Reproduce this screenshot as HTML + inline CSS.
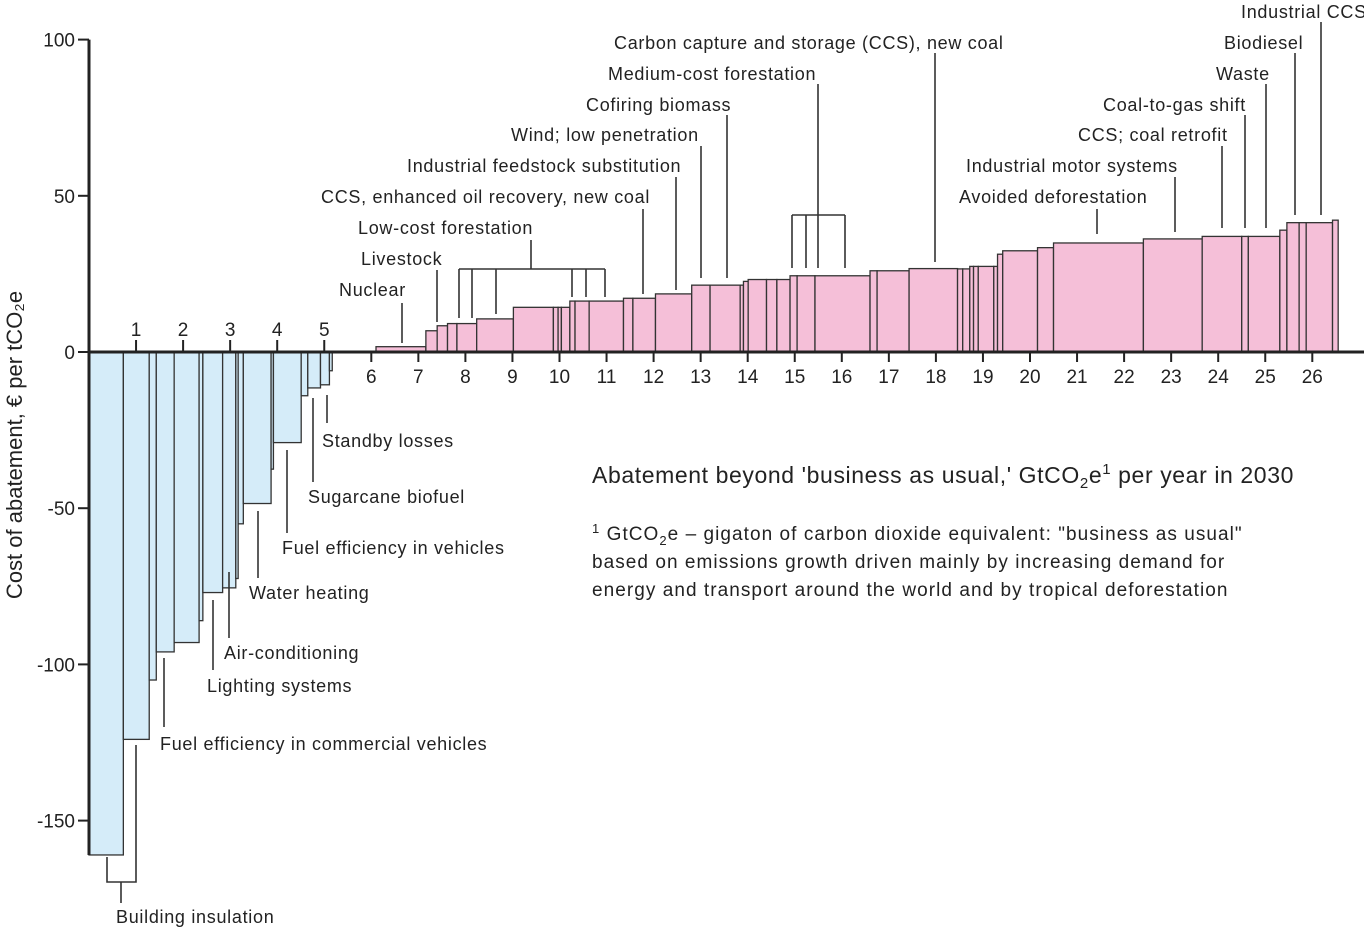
<!DOCTYPE html>
<html><head><meta charset="utf-8"><style>
html,body{margin:0;padding:0;background:#fff;}
svg{display:block;font-family:"Liberation Sans",sans-serif;}
.lb{font-size:18px;fill:#222;letter-spacing:0.7px;}
.ld{stroke:#333;stroke-width:1.6;fill:none;}
</style></head><body>
<svg id="chart" width="1364" height="928" viewBox="0 0 1364 928">
<g id="bars"></g>
<g id="axes"></g>
<g id="ann">
<text transform="translate(22,445) rotate(-90)" text-anchor="middle" style="font-size:22px" fill="#222">Cost of abatement, € per  tCO₂e</text>
<text x="592" y="483" style="font-size:23px;letter-spacing:0.6px" fill="#222">Abatement beyond 'business as usual,' GtCO<tspan font-size="15" dy="5">2</tspan><tspan dy="-5">e</tspan><tspan font-size="15" dy="-9">1</tspan><tspan dy="9"> per year in 2030</tspan></text>
<text style="font-size:19px;letter-spacing:1.05px" fill="#222">
<tspan x="592" y="540"><tspan font-size="13" dy="-7">1</tspan><tspan dy="7"> GtCO</tspan><tspan font-size="13" dy="5">2</tspan><tspan dy="-5">e – gigaton of carbon dioxide equivalent: "business as usual"</tspan></tspan>
<tspan x="592" y="568">based on emissions growth driven mainly by increasing demand for</tspan>
<tspan x="592" y="596">energy and transport around the world and by tropical deforestation</tspan>
</text>
</g>
</svg>
<script>
// negative (cost-saving) measures: widths in GtCO2e, costs in €/t
const negWidths=[0.73,0.55,0.15,0.38,0.53,0.08,0.42,0.28,0.05,0.11,0.59,0.05,0.59,0.14,0.27,0.19,0.06];
const negCosts=[-161,-124,-105,-96,-93,-86,-77,-75.5,-72.5,-55,-48.5,-37.5,-29,-14,-11.5,-10.5,-6];
const posStart=6.10;
const posWidths=[1.06,0.24,0.22,0.2,0.42,0.78,0.85,0.10,0.07,0.18,0.11,0.30,0.73,0.20,0.48,0.77,0.39,0.64,0.07,0.10,0.39,0.22,0.28,0.15,0.38,1.17,0.15,0.68,1.03,0.11,0.15,0.08,0.10,0.33,0.08,0.11,0.74,0.34,1.91,1.25,0.84,0.14,0.67,0.15,0.26,0.15,0.56,0.12];
const posCosts=[1.7,6.8,8.4,9.1,9.1,10.6,14.3,14.3,14.3,14.3,16.3,16.3,16.3,17.2,17.2,18.6,21.4,21.4,21.4,22.6,23.2,23.2,23.2,24.4,24.4,24.4,26.0,26.0,26.7,26.6,26.6,27.4,27.4,27.4,27.4,31.3,32.4,33.4,34.9,36.2,37.0,37.0,37.0,39.0,41.4,41.4,41.4,42.2];
const xTicks=[1,2,3,4,5,6,7,8,9,10,11,12,13,14,15,16,17,18,19,20,21,22,23,24,25,26];
const yTicks=[100,50,0,-50,-100,-150];

const NS="http://www.w3.org/2000/svg";
const X=v=>89+v*47.05;
const Y=v=>352-v*3.124;
function mk(tag,attrs,parent){const e=document.createElementNS(NS,tag);for(const k in attrs)e.setAttribute(k,attrs[k]);parent.appendChild(e);return e;}
const bars=document.getElementById('bars'),axes=document.getElementById('axes'),ann=document.getElementById('ann');
let cx=0;
negWidths.forEach((w,i)=>{const y0=Y(0),y1=Y(negCosts[i]);
const r=mk('rect',{x:X(cx),y:y0,width:X(cx+w)-X(cx),height:y1-y0,fill:'#d5ecf9',stroke:'#333','stroke-width':1.3},bars);


cx+=w;});
cx=posStart;
posWidths.forEach((w,i)=>{const y1=Y(posCosts[i]);
const r=mk('rect',{x:X(cx),y:y1,width:X(cx+w)-X(cx),height:Y(0)-y1,fill:'#f5bfd8',stroke:'#333','stroke-width':1.3},bars);


cx+=w;});
// axes
mk('line',{x1:89,y1:Y(100),x2:89,y2:Y(-161),stroke:'#222','stroke-width':3},axes);
mk('line',{x1:89,y1:Y(0),x2:1364,y2:Y(0),stroke:'#222','stroke-width':3},axes);
yTicks.forEach(v=>{mk('line',{x1:78,y1:Y(v),x2:89,y2:Y(v),stroke:'#222','stroke-width':2},axes);
const t=mk('text',{x:75,y:Y(v)+7,'text-anchor':'end','font-size':19,fill:'#222'},axes);t.textContent=v;

});
xTicks.forEach(v=>{const up=v<=5;
mk('line',{x1:X(v),y1:up?Y(0)-12:Y(0),x2:X(v),y2:up?Y(0):Y(0)+10,stroke:'#222','stroke-width':2},axes);
const t=mk('text',{x:X(v),y:up?Y(0)-16:Y(0)+31,'text-anchor':'middle','font-size':19,fill:'#222'},axes);t.textContent=v;

});
// labels
const labels=[["Industrial CCS",1241,18],["Biodiesel",1224,49],["Waste",1216,80],["Coal-to-gas shift",1103,111],["CCS; coal retrofit",1078,141],["Industrial motor systems",966,172],["Avoided deforestation",959,203],["Carbon capture and storage (CCS), new coal",614,49],["Medium-cost forestation",608,80],["Cofiring biomass",586,111],["Wind; low penetration",511,141],["Industrial feedstock substitution",407,172],["CCS, enhanced oil recovery, new coal",321,203],["Low-cost forestation",358,234],["Livestock",361,265],["Nuclear",339,296],["Standby losses",322,447],["Sugarcane biofuel",308,503],["Fuel efficiency in vehicles",282,554],["Water heating",249,599],["Air-conditioning",224,659],["Lighting systems",207,692],["Fuel efficiency in commercial vehicles",160,750],["Building insulation",116,923]];
labels.forEach(l=>{const t=mk('text',{x:l[1],y:l[2],class:'lb'},ann);t.textContent=l[0];

});
const leaders=["M1321 22V215","M1295 53V215","M1266 84V228","M1245 115V228","M1222 146V228","M1175 177V232","M1097 209V234","M935 53V262","M818 84V215M792 215H845M792 215V268M806 215V268M818 215V268M845 215V268","M727 115V278","M701 146V278","M676 177V290","M643 209V294","M531 240V269M459 269H605M459 269V318M472 269V318M496 269V314M572 269V297M586 269V297M605 269V297","M437 270V322","M402 303V343","M327 395V423","M313 398V482","M287 450V533","M258 511V578","M229 572V638","M213 600V670","M164 658V727","M107 857V882H136V745M121 882V903"];
leaders.forEach(d=>{const p=mk('path',{d:d,class:'ld'},ann);

});
</script>
</body></html>
